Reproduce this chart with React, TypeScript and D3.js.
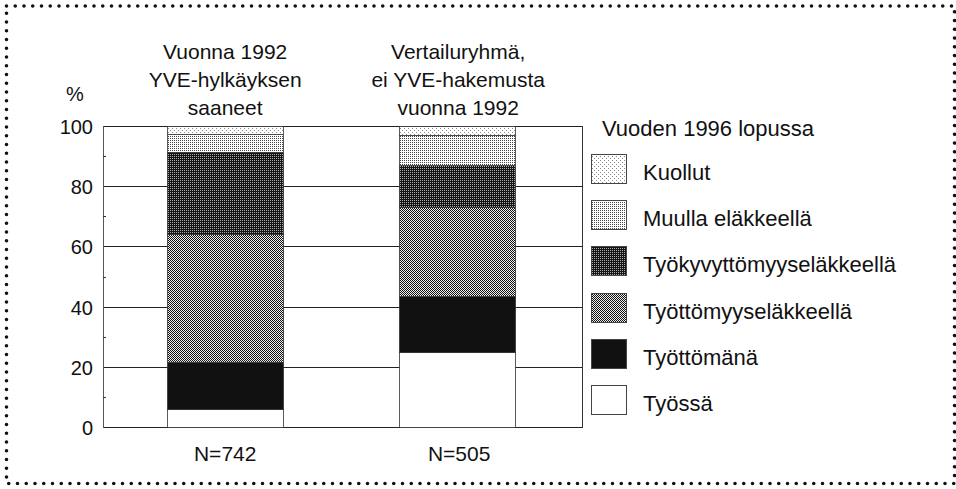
import React from "react";
import * as d3 from "d3";

const width = 956;
const height = 489;

// groups (bars), bottom-to-top series
const groups = ["g1", "g2"];
const groupTitles = [
  ["Vuonna 1992", "YVE-hylkäyksen", "saaneet"],
  ["Vertailuryhmä,", "ei YVE-hakemusta", "vuonna 1992"],
];
const groupN = ["N=742", "N=505"];

const series = [
  "Työssä",
  "Työttömänä",
  "Työttömyyseläkkeellä",
  "Työkyvyttömyyseläkkeellä",
  "Muulla eläkkeellä",
  "Kuollut",
];
const fills = [
  "#ffffff",
  "#111111",
  "url(#p-tyottomyys)",
  "url(#p-tyokyvyt)",
  "url(#p-muulla)",
  "url(#p-kuollut)",
];

const g1Values = [6, 15.5, 42.5, 27.5, 6, 2.5];
const g2Values = [25, 18.5, 29.5, 14, 10, 3];

const yTicks = [0, 20, 40, 60, 80, 100];
const yMinorTicks = [10, 30, 50, 70, 90];

const legendTitle = "Vuoden 1996 lopussa";

const margin = { left: 103, right: 582, top: 126, bottom: 427 };

export default function App() {
  const rows = groups.map((g, i) => {
    const vals = i === 0 ? g1Values : g2Values;
    const row: any = { group: g };
    series.forEach((s, j) => (row[s] = vals[j]));
    return row;
  });

  const stacked = d3.stack().keys(series)(rows);

  const xScale = d3
    .scaleBand()
    .domain(groups)
    .range([margin.left, margin.right])
    .paddingInner(0.5)
    .paddingOuter(0.2824)
    .align(0.49);

  const yScale = d3
    .scaleLinear()
    .domain([0, 100])
    .range([margin.bottom, margin.top]);

  const bw = xScale.bandwidth();
  const font = "'Liberation Sans', Arial, sans-serif";

  // legend, top item is last series
  const legendItems = series.slice().reverse();

  return (
    <svg
      width={width}
      height={height}
      style={{ position: "absolute", left: 0, top: 0, display: "block" }}
      fontFamily={font}
    >
      <defs>
        <pattern id="p-kuollut" width={4} height={4} patternUnits="userSpaceOnUse">
          <rect width={4} height={4} fill="#fff" />
          <rect x={0} y={0} width={1} height={1} fill="#888" />
          <rect x={2} y={2} width={1} height={1} fill="#888" />
        </pattern>
        <pattern id="p-muulla" width={2} height={2} patternUnits="userSpaceOnUse">
          <rect width={2} height={2} fill="#fff" />
          <rect x={0} y={0} width={1} height={1} fill="#444" />
        </pattern>
        <pattern id="p-tyottomyys" width={2} height={2} patternUnits="userSpaceOnUse">
          <rect width={2} height={2} fill="#eee" />
          <rect x={0} y={0} width={1} height={1} fill="#111" />
          <rect x={1} y={1} width={1} height={1} fill="#111" />
        </pattern>
        <pattern id="p-tyokyvyt" width={2} height={2} patternUnits="userSpaceOnUse">
          <rect width={2} height={2} fill="#151515" />
          <rect x={0} y={0} width={1} height={1} fill="#aaa" />
        </pattern>
      </defs>

      <rect width={width} height={height} fill="#fff" />

      {/* dotted frame */}
      <rect
        x={6.5}
        y={6}
        width={948}
        height={477.5}
        fill="none"
        stroke="#111"
        strokeWidth={3.6}
        strokeLinecap="round"
        strokeDasharray="0 8.75"
      />

      {/* grid lines */}
      {yTicks.map((t) => (
        <line
          key={"g" + t}
          x1={margin.left}
          x2={margin.right}
          y1={Math.round(yScale(t)) + 0.5}
          y2={Math.round(yScale(t)) + 0.5}
          stroke="#222"
          strokeWidth={1}
        />
      ))}
      <line
        x1={margin.right + 0.5}
        x2={margin.right + 0.5}
        y1={margin.top}
        y2={margin.bottom + 1}
        stroke="#333"
      />
      <line
        x1={margin.left + 0.5}
        x2={margin.left + 0.5}
        y1={margin.top}
        y2={margin.bottom + 1}
        stroke="#555"
      />
      {yMinorTicks.map((t) => (
        <line
          key={"m" + t}
          x1={margin.left}
          x2={margin.left + 3}
          y1={Math.round(yScale(t)) + 0.5}
          y2={Math.round(yScale(t)) + 0.5}
          stroke="#333"
        />
      ))}
      {yTicks.map((t) => (
        <text
          key={"t" + t}
          x={93}
          y={yScale(t) + 8}
          textAnchor="end"
          fontSize={20}
          fill="#111"
        >
          {t}
        </text>
      ))}
      <text x={75} y={101} textAnchor="middle" fontSize={20} fill="#111">
        %
      </text>

      {/* bars */}
      {stacked.map((layer, j) =>
        layer.map((d, i) => {
          const x0 = Math.round(xScale(groups[i]) as number);
          const yTop = Math.round(yScale(d[1]));
          const yBot = Math.round(yScale(d[0]));
          return (
            <rect
              key={j + "-" + i}
              x={x0 + 0.5}
              y={yTop + 0.5}
              width={Math.round(bw)}
              height={yBot - yTop}
              fill={fills[j]}
              stroke="#333"
              strokeWidth={0.8}
            />
          );
        })
      )}

      {/* group titles and N */}
      {groups.map((g, i) => {
        const cx = (xScale(g) as number) + bw / 2;
        return (
          <g key={"title" + g}>
            {groupTitles[i].map((line, k) => (
              <text
                key={k}
                x={cx + (i === 0 ? 0 : 1)}
                y={59 + k * 28}
                textAnchor="middle"
                fontSize={21}
                fill="#111"
              >
                {line}
              </text>
            ))}
            <text
              x={cx + (i === 0 ? 0 : 2)}
              y={461}
              textAnchor="middle"
              fontSize={21}
              fill="#111"
            >
              {groupN[i]}
            </text>
          </g>
        );
      })}

      {/* legend */}
      <text x={602} y={136} fontSize={22} fill="#111">
        {legendTitle}
      </text>
      {legendItems.map((s, k) => {
        const j = series.indexOf(s);
        const y = 154 + k * 46.2;
        return (
          <g key={"leg" + s}>
            <rect
              x={591.5}
              y={Math.round(y) + 0.5}
              width={35}
              height={29}
              fill={fills[j]}
              stroke="#444"
              strokeWidth={1}
            />
            <text x={643} y={y + 26} fontSize={22} fill="#111">
              {s}
            </text>
          </g>
        );
      })}
    </svg>
  );
}
